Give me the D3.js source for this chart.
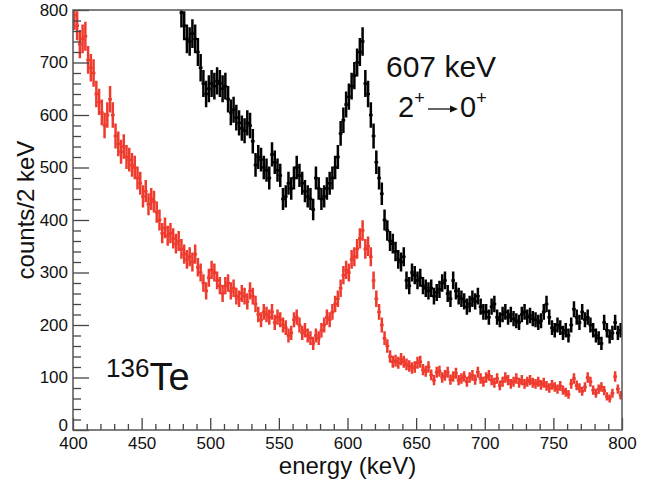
<!DOCTYPE html>
<html>
<head>
<meta charset="utf-8">
<script src="https://cdn.jsdelivr.net/npm/d3@7"></script>
<style>
  body { margin: 0; background: #fff; }
  text { font-family: "Liberation Sans", Arial, sans-serif; fill: #111; }
</style>
</head>
<body>
<div id="chart"></div>
<script>
// ************ data ************
var binWidth = 2;
var redStart = 400;
var redCounts = [
  790, 770, 735, 745, 750, 705, 690, 680, 640, 625,
  605, 580, 600, 630, 600, 560, 545, 530, 540, 520,
  515, 505, 500, 480, 470, 445, 455, 430, 440, 435,
  415, 400, 375, 385, 370, 375, 365, 355, 360, 345,
  335, 325, 330, 320, 335, 310, 300, 280, 265, 290,
  305, 300, 285, 275, 260, 275, 280, 265, 270, 255,
  250, 260, 255, 245, 265, 255, 240, 220, 210, 225,
  220, 215, 225, 205, 215, 210, 200, 195, 180, 185,
  210, 215, 200, 185, 190, 180, 175, 165, 180, 175,
  190, 200, 215, 210, 225, 240, 250, 270, 295, 305,
  300, 325, 330, 345, 365, 380, 345, 350, 330, 285,
  250, 225, 200, 175, 160, 140, 130, 132, 128, 135,
  130, 125, 122, 118, 120, 128, 130, 115, 112, 120,
  105, 95, 110, 112, 100, 104, 110, 96, 102, 108,
  95, 98, 102, 92, 100, 104, 96, 110, 98, 92,
  100, 104, 95, 90, 98, 85, 92, 100, 95, 88,
  92, 98, 90, 95, 88, 92, 95, 90, 88, 92,
  86, 90, 84, 80, 86, 82, 78, 84, 76, 72,
  68, 88, 98, 85, 80, 74, 82, 100, 92, 76,
  70, 78, 82, 75, 64, 60, 70, 102, 78, 66
];
// black spectrum is above the frame below 478 keV
var blackStart = 478;
var blackCounts = [
  795, 770, 745, 740, 755, 745, 720, 690, 660, 640,
  650, 660, 655, 665, 660, 650, 655, 630, 605, 610,
  595, 585, 575, 570, 585, 580, 550, 505, 520, 515,
  500, 495, 480, 525, 510, 495, 485, 440, 445, 470,
  460, 480, 500, 485, 470, 455, 445, 440, 420, 480,
  460, 440, 445, 460, 470, 480, 500, 520, 565, 590,
  620, 635, 655, 675, 700, 720, 740, 660, 640, 600,
  560, 510, 480, 450, 400, 380, 360, 355, 340, 325,
  320, 330, 285, 275, 300, 295, 285, 290, 275, 270,
  265, 270, 255, 262, 268, 280, 285, 260, 250, 285,
  265, 255, 250, 245, 235, 240, 250, 245, 255, 235,
  225, 225, 215, 235, 240, 215, 210, 220, 225, 215,
  220, 212, 208, 205, 220, 225, 215, 218, 212, 210,
  205, 208, 225, 240, 215, 195, 190, 200, 195, 185,
  190, 180, 200, 230, 215, 205, 225, 210, 215, 200,
  190, 180, 175, 165, 205, 190, 178, 185, 205, 185,
  190
];
var xTicks = [400, 450, 500, 550, 600, 650, 700, 750, 800];
var yTicks = [0, 100, 200, 300, 400, 500, 600, 700, 800];

// ************ frame ************
var width = 659, height = 484;
var plotLeft = 73, plotRight = 622, plotTop = 10, plotBottom = 430;

var svg = d3.select('#chart').append('svg')
            .attr('width', width)
            .attr('height', height);

var x = d3.scaleLinear().domain([400, 800]).range([plotLeft, plotRight]);
var y = d3.scaleLinear().domain([0, 800]).range([plotBottom, plotTop]);

svg.append('clipPath').attr('id', 'plot-clip')
   .append('rect')
   .attr('x', plotLeft).attr('y', plotTop)
   .attr('width', plotRight - plotLeft).attr('height', plotBottom - plotTop);

// ************ spectra ************
function drawSpectrum(start, counts, colour) {
  var bins = counts.map(function(c, i) {
    return { lo: start + i * binWidth, n: c };
  });
  var g = svg.append('g').attr('clip-path', 'url(#plot-clip)')
             .style('stroke', colour)
             .style('stroke-width', 2.5)
             .style('fill', 'none');
  g.selectAll('path')
   .data(bins)
   .enter().append('path')
   .attr('d', function(d) {
     var err = Math.sqrt(d.n);
     var xc = x(d.lo + binWidth / 2);
     return 'M' + (x(d.lo) - 0.5) + ',' + y(d.n) + 'H' + (x(d.lo + binWidth) + 0.5) +
            'M' + xc + ',' + y(d.n - err) + 'V' + y(d.n + err);
   });
}

drawSpectrum(blackStart, blackCounts, '#000');
drawSpectrum(redStart, redCounts, '#ee3b2e');

// ************ axes ************
var xMinor = d3.range(400, 801, 10).filter(function(v) { return v % 50 !== 0; });
var yMinor = d3.range(0, 801, 20).filter(function(v) { return v % 100 !== 0; });

svg.append('g')
   .attr('transform', 'translate(0,' + plotBottom + ')')
   .call(d3.axisBottom(x).tickValues(xTicks).tickSize(-12).tickPadding(7)
           .tickFormat(d3.format('d')));
svg.append('g')
   .attr('transform', 'translate(0,' + plotBottom + ')')
   .call(d3.axisBottom(x).tickValues(xMinor).tickSize(-6).tickFormat(''));

var yAxis = svg.append('g')
               .attr('transform', 'translate(' + plotLeft + ',0)')
               .call(d3.axisLeft(y).tickValues(yTicks).tickSize(-16).tickPadding(5)
                       .tickFormat(d3.format('d')));
svg.append('g')
   .attr('transform', 'translate(' + plotLeft + ',0)')
   .call(d3.axisLeft(y).tickValues(yMinor).tickSize(-8).tickFormat(''));

// the "0" sits just above the x labels, as in ROOT
yAxis.selectAll('.tick text')
     .filter(function(d) { return d === 0; })
     .attr('dy', '0.05em');

svg.selectAll('.domain').remove();
svg.selectAll('.tick line').style('stroke', '#444').style('stroke-width', 1.3);
svg.selectAll('.tick text')
   .style('font-family', '"Liberation Sans", Arial, sans-serif')
   .style('font-size', '17px')
   .style('fill', '#111');

svg.append('rect')
   .attr('x', plotLeft).attr('y', plotTop)
   .attr('width', plotRight - plotLeft).attr('height', plotBottom - plotTop)
   .style('fill', 'none')
   .style('stroke', '#555')
   .style('stroke-width', 1.5);

// axis titles
svg.append('text')
   .attr('x', (plotLeft + plotRight) / 2)
   .attr('y', 474)
   .attr('text-anchor', 'middle')
   .style('font-size', '24px')
   .text('energy (keV)');

svg.append('text')
   .attr('transform', 'translate(34,210) rotate(-90)')
   .attr('text-anchor', 'middle')
   .style('font-size', '24px')
   .text('counts/2 keV');

// ************ labels ************
svg.append('text')
   .attr('x', 386)
   .attr('y', 77)
   .style('font-size', '30px')
   .text('607 keV');

var trans = svg.append('text')
               .attr('x', 398)
               .attr('y', 117)
               .style('font-size', '29px');
trans.append('tspan').text('2');
trans.append('tspan').attr('dy', -13).style('font-size', '18px').text('+');

svg.append('line')
   .attr('x1', 428).attr('x2', 452)
   .attr('y1', 109).attr('y2', 109)
   .style('stroke', '#111')
   .style('stroke-width', 1.3);
svg.append('path')
   .attr('d', 'M458,109 L450,105.5 L450,112.5 Z')
   .style('fill', '#111');

var trans2 = svg.append('text')
                .attr('x', 460)
                .attr('y', 117)
                .style('font-size', '29px');
trans2.append('tspan').text('0');
trans2.append('tspan').attr('dy', -13).style('font-size', '18px').text('+');

var nucleus = svg.append('text')
                 .attr('x', 106)
                 .attr('y', 390)
                 .style('font-size', '38px');
nucleus.append('tspan').attr('dy', -13).style('font-size', '26px').text('136');
nucleus.append('tspan').attr('dy', 13).text('Te');
</script>
</body>
</html>
